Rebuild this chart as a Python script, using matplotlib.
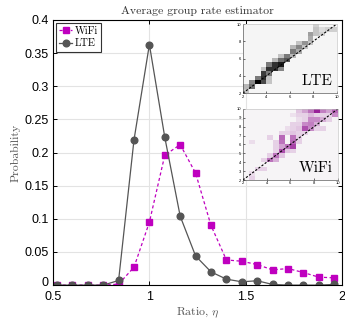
import numpy as np
import matplotlib
matplotlib.use("Agg")
import matplotlib.pyplot as plt
import matplotlib.transforms as mtransforms
from matplotlib.colors import LinearSegmentedColormap

plt.rcParams['mathtext.fontset'] = 'cm'
plt.rcParams['font.family'] = 'Liberation Sans'

# main curves
ratio = [0.52, 0.60, 0.68, 0.76, 0.84, 0.92, 1.00, 1.08, 1.16, 1.24,
         1.32, 1.40, 1.48, 1.56, 1.64, 1.72, 1.80, 1.88, 1.96]
wifi = [0, 0, 0, 0, 0.0015, 0.027, 0.095, 0.196, 0.212, 0.169,
        0.090, 0.038, 0.036, 0.031, 0.023, 0.025, 0.019, 0.012, 0.011]
lte = [0, 0, 0, 0, 0.007, 0.219, 0.363, 0.223, 0.104, 0.044,
       0.020, 0.009, 0.005, 0.0066, 0.001, 0, 0, 0, 0.001]

# inset heatmaps: bins of 0.5 from 2 to 10, (col, row, intensity)
lte_col = [0, 0, 1, 1, 2, 3, 4, 2, 3, 4, 3, 4, 3, 4, 5, 6, 4, 5, 6, 5, 6, 7,
           6, 7, 8, 8, 9, 8, 9, 10, 9, 10, 11, 11, 11, 12, 13, 12, 13, 14, 15, 12]
lte_row = [0, 1, 1, 2, 2, 2, 2, 3, 3, 3, 4, 4, 5, 5, 5, 5, 6, 6, 6, 7, 7, 7,
           8, 8, 8, 9, 9, 10, 10, 10, 11, 11, 11, 12, 13, 13, 13, 14, 14, 14, 14, 15]
lte_val = [0.2, 0.25, 0.55, 0.45, 1.0, 0.7, 0.2, 0.5, 0.8, 0.2, 0.75, 0.5,
           0.2, 0.8, 0.8, 0.45, 0.5, 0.8, 0.9, 0.25, 0.55, 0.65,
           0.2, 0.5, 0.25, 0.5, 0.3, 0.25, 0.45, 0.2, 0.2, 0.4, 0.2,
           0.3, 0.35, 0.2, 0.15, 0.2, 0.1, 0.15, 0.15, 0.15]

wifi_col = [1, 1, 2, 3, 3, 4, 5, 4, 5, 6, 5, 6, 7, 8, 5, 6, 7, 8, 1, 5, 6, 8, 9,
            4, 6, 8, 9, 6, 7, 8, 9, 10, 7, 8, 9, 10, 11, 12, 13, 8, 9, 10, 11, 12,
            9, 10, 11, 12, 13, 14, 8, 9, 10, 11, 12, 13, 14, 15, 9, 10, 11, 12, 13, 14, 15]
wifi_row = [0, 1, 2, 2, 4, 4, 4, 5, 5, 5, 6, 6, 6, 6, 7, 7, 7, 7, 8, 8, 8, 8, 8,
            9, 9, 9, 9, 10, 10, 10, 10, 10, 11, 11, 11, 11, 11, 11, 11, 12, 12, 12, 12, 12,
            13, 13, 13, 13, 13, 13, 14, 14, 14, 14, 14, 14, 14, 14, 15, 15, 15, 15, 15, 15, 15]
wifi_val = [0.15, 0.1, 0.15, 0.15, 0.15, 0.55, 0.3, 0.15, 0.55, 0.2, 0.15, 0.7, 0.2, 0.15, 0.15,
            0.35, 0.55, 0.75, 0.1, 0.15, 0.55, 0.6, 0.15, 0.15, 0.6, 0.55, 0.15, 0.15, 0.15, 0.2,
            0.15, 0.15, 0.1, 0.15, 0.2, 0.7, 0.45, 0.15, 0.15, 0.15, 0.15, 0.45, 0.5, 0.3,
            0.1, 0.15, 0.45, 0.45, 0.3, 0.15, 0.08, 0.15, 0.15, 0.25, 0.15, 0.15, 0.15, 0.45,
            0.2, 0.35, 0.55, 0.9, 0.5, 0.35, 0.6]

fig = plt.figure(figsize=(3.45, 3.2), dpi=100)
ax = fig.add_axes([0.154, 0.109, 0.837, 0.8285])

ax.plot(ratio, wifi, ls='--', dashes=(2.5, 2), color='#bf00bf', lw=0.9,
        marker='s', ms=4.2, label='WiFi')
ax.plot(ratio, lte, ls='-', color='#555555', lw=0.9,
        marker='o', ms=4.8, label='LTE')

ax.set_xlim(0.5, 2)
ax.set_ylim(0, 0.4)
ax.set_xticks([0.5, 1, 1.5, 2])
ax.set_xticklabels(['0.5', '1', '1.5', '2'])
ax.set_yticks(np.arange(0, 0.41, 0.05))
ax.set_yticklabels(['0', '0.05', '0.1', '0.15', '0.2', '0.25', '0.3', '0.35', '0.4'])
ax.grid(True, color='#e3e3e3', lw=0.8)
ax.set_axisbelow(True)
ax.tick_params(direction='in', length=3, width=0.7, top=True, right=True,
               labelsize=9, pad=3)
ax.tick_params(axis='x', pad=4.5)
for s in ax.spines.values():
    s.set_linewidth(0.8)

# lift the "0" label a little so it clears the "0.5" below it
zero = ax.get_yticklabels()[0]
zero.set_transform(zero.get_transform() + mtransforms.ScaledTranslation(0, 2.5 / 72, fig.dpi_scale_trans))

ax.set_title('Average group rate estimator', family='cmr10', fontsize=8.5, pad=4, color='#333333')
ax.set_xlabel(r'Ratio, $\eta$', family='cmr10', fontsize=8.5, labelpad=2, color='#555555')
ax.set_ylabel('Probability', family='cmr10', fontsize=8.5, labelpad=3, color='#555555')

leg = ax.legend(loc='upper left', prop={'family': 'cmr10', 'size': 7.5}, fancybox=False,
                edgecolor='#333333', framealpha=1, handlelength=1.2, handletextpad=0.3,
                borderpad=0.3, labelspacing=0.3, borderaxespad=0.3)
leg.get_frame().set_linewidth(0.8)


def heat(rect, cols, rows, vals, cmap, label, yticks):
    m = np.zeros((16, 16))
    for c, r, v in zip(cols, rows, vals):
        m[r, c] = v
    iax = fig.add_axes(rect)
    iax.imshow(m, cmap=cmap, vmin=0, vmax=1, origin='lower', extent=[2, 10, 2, 10],
               aspect='auto', interpolation='nearest')
    iax.plot([2, 10], [2, 10], ls='--', color='black', lw=0.8, dashes=(2, 1.5))
    iax.set_xlim(2, 10)
    iax.set_ylim(2, 10)
    iax.set_xticks([2, 4, 6, 8, 10])
    iax.set_yticks(yticks)
    iax.tick_params(labelsize=3, length=1.5, width=0.4, pad=1, direction='in')
    for s in iax.spines.values():
        s.set_linewidth(0.4)
        s.set_color('#bbbbbb')
    iax.spines['left'].set_color('#333333')
    iax.spines['bottom'].set_color('#333333')
    iax.text(9.6, 2.6, label, family='cmr10', fontsize=11, ha='right', va='bottom')
    return iax


lte_cmap = LinearSegmentedColormap.from_list('lte', ['#f5f5f5', '#000000'])
wifi_cmap = LinearSegmentedColormap.from_list('wifi', ['#f6f4f6', '#8e0a8e'])

heat([0.704, 0.709, 0.272, 0.216], lte_col, lte_row, lte_val, lte_cmap, 'LTE', [2, 4, 6, 8, 10])
heat([0.704, 0.4375, 0.275, 0.222], wifi_col, wifi_row, wifi_val, wifi_cmap, 'WiFi', list(range(2, 11)))

fig.savefig('out.png', dpi=100)
